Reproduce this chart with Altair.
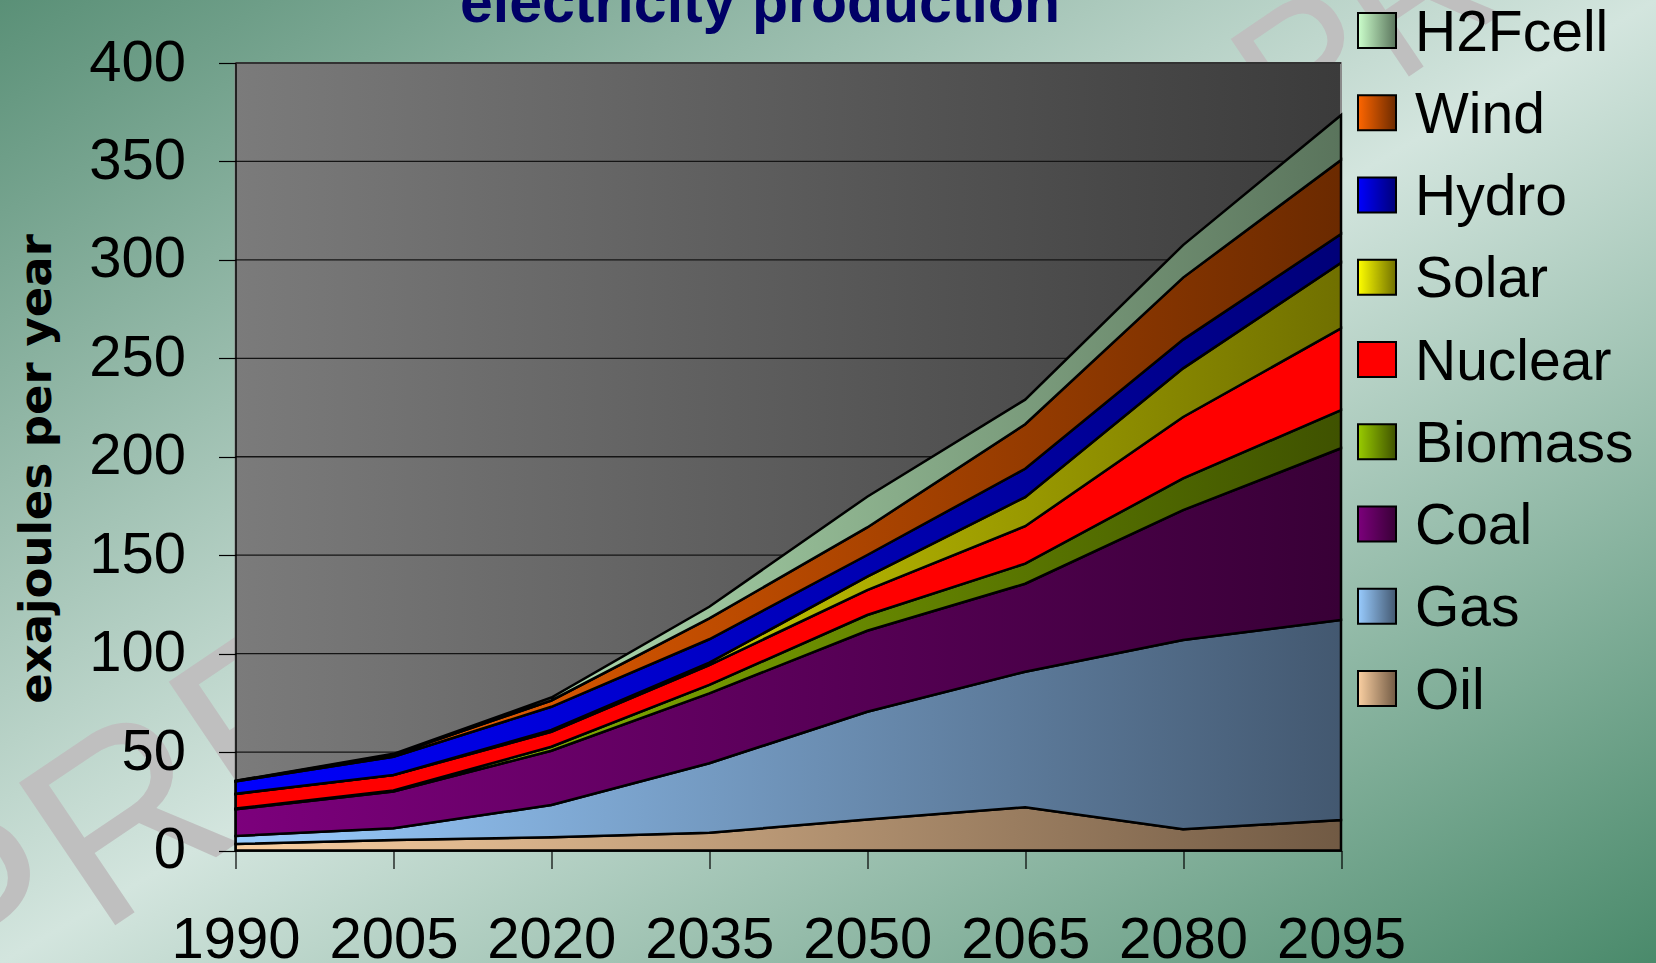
import altair as alt
import pandas as pd

# ---------------- data ----------------
years = [1990, 2005, 2020, 2035, 2050, 2065, 2080, 2095]
series = ["Oil", "Gas", "Coal", "Biomass", "Nuclear", "Solar", "Hydro", "Wind", "H2Fcell"]
oil = [3.3, 5.3, 6.7, 9.0, 15.8, 22.0, 10.8, 15.5]
gas = [4.1, 6.0, 16.4, 35.3, 54.7, 68.8, 96.1, 101.6]
coal = [13.5, 18.6, 27.6, 35.5, 41.1, 44.7, 66.0, 87.2]
biomass = [0.4, 0.6, 2.0, 4.3, 8.0, 10.2, 16.1, 19.4]
nuclear = [7.4, 7.8, 7.6, 10.1, 12.7, 19.0, 31.2, 41.5]
solar = [0.1, 0.1, 0.9, 1.2, 6.8, 14.8, 24.7, 33.3]
hydro = [6.3, 9.2, 11.8, 11.9, 11.0, 14.4, 14.6, 14.6]
wind = [0.2, 1.0, 3.2, 10.6, 14.0, 22.6, 31.5, 37.6]
h2fcell = [0.1, 0.5, 1.5, 5.9, 15.6, 12.5, 16.5, 22.8]
y_ticks = [0, 50, 100, 150, 200, 250, 300, 350, 400]
grid_values = [50, 100, 150, 200, 250, 300, 350, 400]
legend_order = ["H2Fcell", "Wind", "Hydro", "Solar", "Nuclear", "Biomass", "Coal", "Gas", "Oil"]
title_text = "electricity production"
y_title = "exajoules per year"
watermark = "PREVIEW"

# gradient colours (left, right) per series
colors = {
    "Oil": ("#fbd0a2", "#715a44"),
    "Gas": ("#99ccff", "#435870"),
    "Coal": ("#7c007c", "#380036"),
    "Biomass": ("#99cc00", "#3f5200"),
    "Nuclear": ("#ff0000", "#ff0000"),
    "Solar": ("#ffff00", "#707000"),
    "Hydro": ("#0000ff", "#000078"),
    "Wind": ("#ff6600", "#6b2a00"),
    "H2Fcell": ("#ccffcc", "#5a745c"),
}

values = [oil, gas, coal, biomass, nuclear, solar, hydro, wind, h2fcell]
rows = []
for i, (s, vals) in enumerate(zip(series, values)):
    for yr, v in zip(years, vals):
        rows.append({"year": yr, "source": s, "value": v, "order": i})
df = pd.DataFrame(rows)
one = pd.DataFrame({"k": [0]})

# ---------------- layout ----------------
W, H = 1656, 963
L, T, R, B = 235.5, 63, 1341, 850.5
PW, PH = R - L, B - T
FONT = "Liberation Sans"


def grad(c1, c2, x2=1, y2=0):
    return alt.LinearGradient(
        gradient="linear",
        stops=[alt.GradientStop(color=c1, offset=0), alt.GradientStop(color=c2, offset=1)],
        x1=0, y1=0, x2=x2, y2=y2,
    )


xs = alt.Scale(domain=[1990, 2095], nice=False, zero=False)
ys = alt.Scale(domain=[0, 400], nice=False)
xaxis = alt.Axis(values=years, format="d", labelFontSize=58, labelFont=FONT, labelColor="black",
                 tickSize=18, tickColor="black", tickWidth=1.2, domainColor="black", domainWidth=1.5,
                 labelPadding=43, grid=False, title=None, labelFlush=False, labelOverlap=False, zindex=1)
yaxis = alt.Axis(values=y_ticks, labelFontSize=58, labelFont=FONT, labelColor="black",
                 tickSize=17, tickColor="black", tickWidth=1.2, domainColor="black", domainWidth=1.5,
                 labelPadding=33, grid=False, title=None, zindex=1)

layers = []

# page background
bg_grad = alt.LinearGradient(
    gradient="linear",
    stops=[alt.GradientStop(color="#5a9077", offset=0),
           alt.GradientStop(color="#d3e5de", offset=0.5),
           alt.GradientStop(color="#4a8a6b", offset=1)],
    x1=0, y1=0, x2=1, y2=1,
)
layers.append(alt.Chart(one).mark_rect(fill=bg_grad).encode(
    x=alt.value(-L), x2=alt.value(W - L), y=alt.value(-T), y2=alt.value(H - T)))

# watermark
layers.append(alt.Chart(one).mark_text(text=watermark, font=FONT, fontSize=250, fill="#bfbfbf",
                                       angle=326, align="left", baseline="alphabetic").encode(
    x=alt.value(-40 - L), y=alt.value(1030 - T)))
layers.append(alt.Chart(one).mark_text(text=watermark, font=FONT, fontSize=190, fill="#bfbfbf",
                                       angle=326, align="left", baseline="alphabetic").encode(
    x=alt.value(1291 - L), y=alt.value(156 - T)))

# plot panel
layers.append(alt.Chart(one).mark_rect(fill=grad("#7b7b7b", "#3b3b3b"), stroke="#8a8a8a", strokeWidth=2).encode(
    x=alt.value(0), x2=alt.value(PW), y=alt.value(0), y2=alt.value(PH)))

# gridlines
layers.append(alt.Chart(pd.DataFrame({"g": grid_values})).mark_rule(color="#141414", strokeWidth=1.3).encode(
    y=alt.Y("g:Q", scale=ys, axis=yaxis)))

# stacked areas
base = alt.Chart(df).transform_stack(
    stack="value", groupby=["year"], as_=["y0", "y1"], sort=[alt.SortField("order", order="ascending")])
for s in series:
    c1, c2 = colors[s]
    layers.append(base.transform_filter(alt.datum.source == s).mark_area(
        fill=grad(c1, c2), stroke="black", strokeWidth=2.5, strokeJoin="miter", fillOpacity=1).encode(
        x=alt.X("year:Q", scale=xs, axis=xaxis),
        y=alt.Y("y1:Q", scale=ys, axis=yaxis),
        y2="y0:Q"))

# legend
for i, s in enumerate(legend_order):
    c1, c2 = colors[s]
    cy = 30.5 + i * 82.25 - T
    layers.append(alt.Chart(one).mark_rect(fill=grad(c1, c2), stroke="black", strokeWidth=2).encode(
        x=alt.value(1358 - L), x2=alt.value(1396 - L), y=alt.value(cy - 17.5), y2=alt.value(cy + 17.5)))
    layers.append(alt.Chart(one).mark_text(text=s, font=FONT, fontSize=57, fill="black",
                                           align="left", baseline="alphabetic").encode(
        x=alt.value(1415 - L), y=alt.value(cy + 20)))

# title (partly cut off at the top, as in the reference)
layers.append(alt.Chart(one).mark_text(text=title_text, font=FONT, fontSize=59, fontWeight="bold",
                                       fill="#000066", align="center", baseline="alphabetic").encode(
    x=alt.value(760 - L), y=alt.value(22 - T)))

# y title
layers.append(alt.Chart(one).mark_text(text=y_title, font="DejaVu Sans", fontSize=45, fontWeight="bold",
                                       fill="black", angle=270, align="center", baseline="middle").encode(
    x=alt.value(37 - L), y=alt.value(469 - T)))

chart = alt.layer(*layers).properties(
    width=PW, height=PH,
    autosize=alt.AutoSizeParams(type="none"),
    padding={"left": L, "top": T, "right": W - R, "bottom": H - B},
).configure_view(stroke="transparent")

chart.save("out.html", embed_options={"renderer": "svg", "actions": False})
